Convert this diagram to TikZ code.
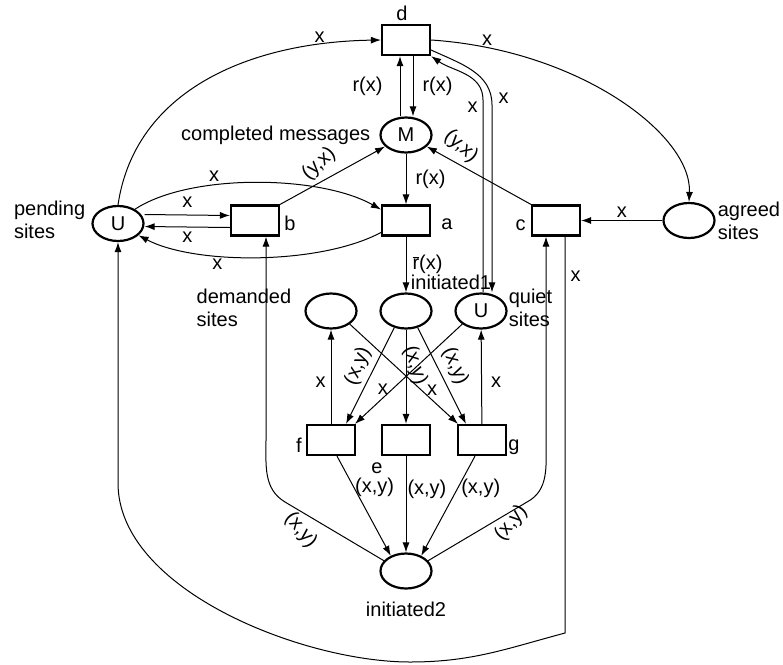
\documentclass[tikz,border=0pt]{standalone}
\usepackage{fontspec}
\setmainfont{Liberation Sans}
\usetikzlibrary{positioning,shapes.geometric,arrows.meta}

\begin{document}
\begin{tikzpicture}[x=1pt, y=1pt, inner sep=1pt, font=\fontsize{20}{23}\selectfont, >={Latex[length=10pt,width=7pt]}, pl/.style={on grid, ellipse, draw, line width=2.2pt, minimum width=51pt, minimum height=35pt, inner sep=0pt}, tr/.style={on grid, rectangle, draw, line width=2.2pt, minimum width=48pt, minimum height=30pt}, fl/.style={->, line width=1pt}]
		\useasboundingbox (0,0) rectangle (783,-664);

		\node[tr] (d) at (406,-40) {};
		\node[above=2pt of d, xshift=-4pt] (d_label) {d};
		\node[pl, below=95pt of d] (M) {M};
		\node[left=8pt of M] (M_label) {completed messages};
		\node[tr, below=85.5pt of M] (a) {};
		\node[right=9pt of a, yshift=-4pt] (a_label) {a};
		\node[tr, left=151pt of a] (b) {};
		\node[right=3pt of b, yshift=-3pt] (b_label) {b};
		\node[tr, right=150pt of a] (c) {};
		\node[left=4pt of c, yshift=-5pt] (c_label) {c};
		\node[pl, left=137pt of b, yshift=-3pt] (U) {U};
		\node[left=5pt of U, align=left, yshift=4pt] (U_label) {pending\\sites};
		\node[pl, right=133pt of c] (agreed) {};
		\node[right=1pt of agreed, align=left] (agreed_label) {agreed\\sites};
		\node[pl, below=90.5pt of a] (i1) {};
		\node[above=2pt of i1, xshift=45pt] (i1_label) {initiated1};
		\node[pl, left=75pt of i1] (dem) {};
		\node[left=12pt of dem, align=left, yshift=3pt] (dem_label) {demanded\\sites};
		\node[pl, right=75pt of i1] (quiet) {U};
		\node[right=0pt of quiet, align=left, yshift=3pt] (quiet_label) {quiet\\sites};
		\node[tr, below=129pt of i1] (e) {};
		\node[below=5pt of e.south west, xshift=-4pt] (e_label) {e};
		\node[tr, left=75pt of e] (f) {};
		\node[left=3pt of f, yshift=-5pt] (f_label) {f};
		\node[tr, right=76pt of e] (g) {};
		\node[right=0pt of g, yshift=-7pt] (g_label) {g};
		\node[pl, below=131pt of e] (i2) {};
		\node[below=11pt of i2] (i2_label) {initiated2};

		\draw[fl] (U.north) .. controls (135,-90) and (250,-42) .. (d.west) node[pos=.84, above=1pt] {x};
		\draw[fl] (d.east) .. controls (580,-50) and (692,-135) .. (agreed.north) node[pos=.13, above=1pt] {x};
		\draw[fl] ([xshift=-6pt]M.north) -- node[left=16pt] {r(x)} ([xshift=-6pt]d.south);
		\draw[fl] ([xshift=7pt]d.south) -- node[right=8pt] {r(x)} ([xshift=7pt]M.north);
		\draw[fl] (M) -- node[right=8pt] {r(x)} (a);
		\draw[fl] (b.north east) -- node[pos=.39, xshift=-2pt, yshift=18pt, rotate=42] {(y,x)} (M);
		\draw[fl] (c.north west) -- node[pos=.69, xshift=2pt, yshift=18pt, rotate=-42] {(y,x)} (M);
		\draw[fl] ([yshift=9pt]U.east) -- node[above=6pt] {x} ([yshift=5pt]b.west);
		\draw[fl] ([yshift=-7pt]b.west) -- node[below=3pt] {x} ([yshift=-3pt]U.east);
		\draw[fl] (U.40) .. controls (190,-173) and (320,-175) .. ([yshift=11pt]a.west) node[pos=.35, above=2pt] {x};
		\draw[fl] ([yshift=-12pt]a.west) .. controls (320,-265) and (195,-265) .. (U.-30) node[pos=.65, below=2pt] {x};
		\draw[fl] (a) -- node[right=5pt] {$\overline{\mbox{r}}$(x)} (i1);
		\draw[fl] ([xshift=2pt]quiet.north) -- (483,-100) node[left=4pt, yshift=-7pt] {x} to[out=90, in=-35] (d.south east);
		\draw[fl] ([yshift=-10pt]d.east) to[out=-25, in=90] (492,-105) node[right=5pt, yshift=7pt] {x} -- ([xshift=11pt]quiet.north);
		\draw[fl] (agreed) -- node[above=2pt] {x} (c);
		\draw[fl] ([xshift=9pt]c.south) -- node[pos=.1, right=4pt] {x} (565,-633) to[out=195, in=0] (410,-662) to[out=180, in=-90, looseness=.8] (118,-483) -- (U.south);
		\draw[fl] (i2.155) -- node[pos=.76, xshift=-8pt, yshift=-14pt, rotate=-50] {(x,y)} (285,-502) to[out=149, in=-90] (266,-440) -- ([xshift=11pt]b.south);
		\draw[fl] (i2.25) -- node[pos=.79, xshift=5pt, yshift=-9pt, rotate=50] {(x,y)} (527,-502) to[out=28, in=-90] (546,-440) -- ([xshift=-10pt]c.south);
		\draw[fl] (f) -- node[pos=.44, left=4pt] {x} (dem);
		\draw[fl] (g) -- node[pos=.44, right=8pt] {x} (quiet);
		\draw[fl] (dem.-35) -- node[pos=.76, yshift=10pt] {x} ([xshift=-24pt]g.north);
		\draw[fl] (quiet.215) -- node[pos=.74, yshift=9pt] {x} ([xshift=24pt]f.north);
		\draw[fl] (i1.235) -- node[pos=.4, xshift=-17pt, rotate=68] {(x,y)} ([xshift=15pt]f.north);
		\draw[fl] (i1) -- node[pos=.38, xshift=9pt, rotate=-72] {(x,y)} (e);
		\draw[fl] (i1.305) -- node[pos=.4, xshift=18pt, rotate=-68] {(x,y)} ([xshift=-16pt]g.north);
		\draw[fl] ([xshift=6pt]f.south) -- node[pos=.31, right=0pt] {(x,y)} (i2.135);
		\draw[fl] (e) -- node[pos=.34, right=0pt] {(x,y)} (i2);
		\draw[fl] ([xshift=-7pt]g.south) -- node[pos=.32, right=2pt] {(x,y)} (i2.45);
	\end{tikzpicture}
\end{document}
